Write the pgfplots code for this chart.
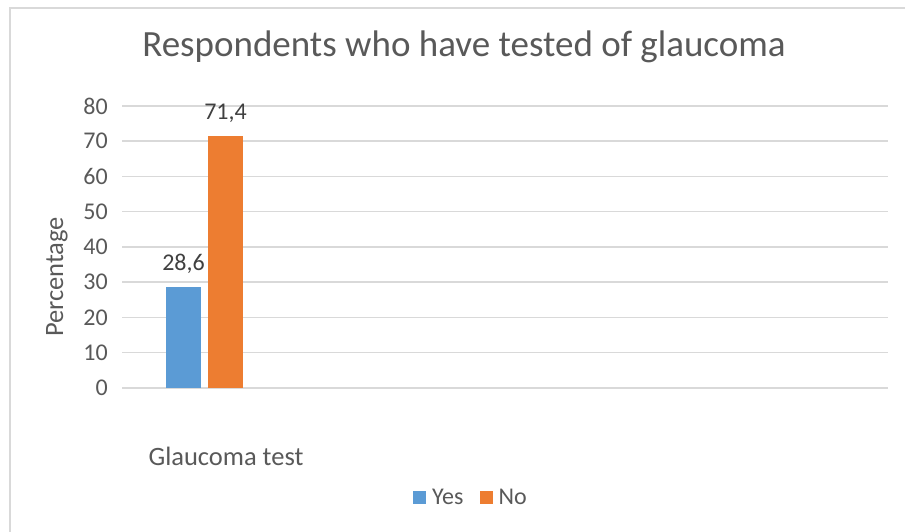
\documentclass[border=0pt]{standalone}
\usepackage{fontspec}
\setmainfont{Carlito}
\usepackage{pgfplots}
\pgfplotsset{compat=1.18}

\definecolor{exblue}{HTML}{5B9BD5}
\definecolor{exorange}{HTML}{ED7D31}
\definecolor{gridgray}{HTML}{D9D9D9}
\definecolor{txt}{HTML}{595959}
\definecolor{lbl}{HTML}{404040}

\newcommand{\tickfont}{\fontsize{24bp}{28bp}\selectfont}

\pgfplotsset{
  squarelegend/.style={
    legend image code/.code={
      \fill[##1, draw=none] (0bp,-6.5bp) rectangle (13bp,6.5bp);
      \path (19bp,0bp);
    }
  }
}

\begin{document}
\begin{tikzpicture}
\path[use as bounding box] (0,0) rectangle (905bp,532bp);
% chart frame
\draw[gridgray, line width=1.5bp] (10bp,-5bp) -- (10bp,524bp) -- (915bp,524bp);

\begin{axis}[
  at={(122bp,144bp)}, anchor=south west,
  scale only axis, width=766bp, height=282bp,
  xmin=-0.5, xmax=4.1424, ymin=0, ymax=80,
  ytick={0,10,...,80}, xtick=\empty,
  axis line style={draw=none},
  major tick length=0pt,
  ymajorgrids,
  grid style={gridgray, line width=1.5bp},
  ybar=7bp, bar width=35bp,
  /pgf/number format/assume math mode=true,
  yticklabel style={font=\tickfont, color=txt, inner sep=0pt, anchor=east, xshift=-14bp},
  nodes near coords={\pgfmathprintnumber[fixed, fixed zerofill, precision=1, use comma]{\pgfplotspointmeta}},
  every node near coord/.append style={font=\tickfont, color=lbl, anchor=base, inner sep=0pt, yshift=17bp},
  title={Respondents who have tested of glaucoma},
  title style={at={(axis description cs:0.4465,1.188)}, anchor=center,
    font=\fontsize{37bp}{44bp}\selectfont, color=txt},
  xlabel={Glaucoma test},
  xlabel style={at={(axis description cs:0.1358,-0.241)}, anchor=center,
    font=\fontsize{26.5bp}{31bp}\selectfont, color=txt},
  ylabel={Percentage},
  ylabel style={at={(axis description cs:-0.0849,0.3936)}, anchor=center, rotate=0,
    font=\fontsize{26.5bp}{31bp}\selectfont, color=txt},
  legend columns=-1,
  legend style={at={(axis description cs:0.3799,-0.390)}, anchor=west,
    draw=none, fill=none, inner sep=0pt, font=\tickfont, text=txt,
    nodes={inner sep=0pt},
    /tikz/every even column/.append style={column sep=16bp}},
]
\addplot[fill=exblue, draw=none, squarelegend] coordinates {(0,28.6)};
\addplot[fill=exorange, draw=none, squarelegend] coordinates {(0,71.4)};
\legend{Yes, No}
\end{axis}
\end{tikzpicture}
\end{document}
